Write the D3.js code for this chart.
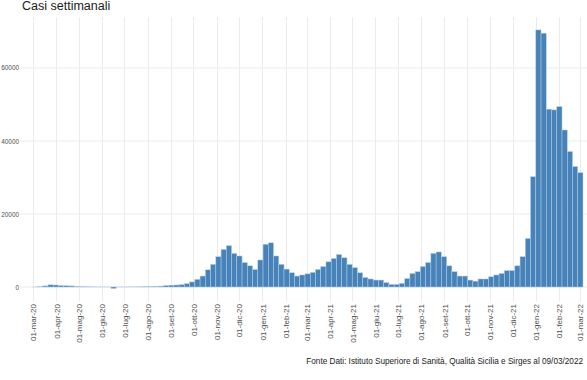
<!DOCTYPE html>
<html><head><meta charset="utf-8">
<script src="https://cdn.jsdelivr.net/npm/d3@7"></script>
<style>body{margin:0;background:#fff}svg{display:block}</style>
</head><body>
<svg id="c" width="587" height="380"></svg>
<script>
const title = "Casi settimanali";
const caption = "Fonte Dati: Istituto Superiore di Sanità, Qualità Sicilia e Sirges al 09/03/2022";
const firstWeek = "2020-02-22";
const lastWeek = "2022-02-26";
const weeklyCases = [
  0, 10, 80, 300, 600, 550, 400, 350, 300, 200,
  100, 60, 40, 20, 15, 10, -400, 15, 20, 30,
  40, 60, 100, 150, 200, 250, 400, 500, 550, 650,
  900, 1400, 2100, 3000, 4700, 6200, 8300, 10300, 11300, 9200,
  8500, 6700, 5800, 4800, 7400, 11700, 12100, 8500, 6200, 4900,
  3900, 3000, 3300, 3600, 4000, 4800, 5600, 6900, 7800, 8900,
  8000, 6200, 5300, 3900, 2600, 2200, 1900, 1900, 1200, 700,
  700, 1000, 2300, 3700, 4200, 5600, 6700, 9200, 9600, 8300,
  5800, 4200, 3000, 3000, 1900, 1600, 2200, 2200, 2800, 3300,
  3700, 4500, 4500, 5800, 8300, 13300, 30200, 70400, 69500, 48700,
  48500, 49400, 43000, 37100, 33000, 31300
];
const yTicks = [0, 20000, 40000, 60000];
const monthNames = ["gen","feb","mar","apr","mag","giu","lug","ago","set","ott","nov","dic"];

const parse = d3.utcParse("%Y-%m-%d");
const weeks = d3.utcSaturday.range(parse(firstWeek), d3.utcDay.offset(parse(lastWeek), 1));
const data = weeks.map((d, i) => ({date: d, value: weeklyCases[i]}));

const svg = d3.select("#c");
const x = d3.scaleUtc().domain([parse("2020-03-01"), parse("2022-03-01")]).range([33, 580]);
const xTicks = d3.utcMonth.range(parse("2020-03-01"), parse("2022-03-02"));
const y = d3.scaleLinear().domain([-3940, 73940]).range([301.4, 17]);

const grid = svg.append("g");
grid.selectAll("line.h").data(yTicks).join("line")
  .attr("x1", 20).attr("x2", 587)
  .attr("y1", d => y(d)).attr("y2", d => y(d))
  .attr("stroke", "#ebebeb").attr("stroke-width", 1);
grid.selectAll("line.v").data(xTicks).join("line")
  .attr("x1", d => Math.round(x(d)) + 0.5).attr("x2", d => Math.round(x(d)) + 0.5)
  .attr("y1", 17).attr("y2", 301)
  .attr("stroke", "#ebebeb").attr("stroke-width", 1);

svg.append("g").selectAll("rect").data(data).join("rect")
  .attr("x", d => x(d.date))
  .attr("width", d => x(d3.utcDay.offset(d.date, 7)) - x(d.date))
  .attr("y", d => y(Math.max(0, d.value)))
  .attr("height", d => Math.abs(y(d.value) - y(0)))
  .attr("fill", "#4783b8")
  .attr("stroke", "#b3cde6").attr("stroke-width", 0.5);

const yAxis = d3.axisLeft(y).tickValues(yTicks).tickSize(0).tickPadding(0).tickFormat(d3.format("d"));
svg.append("g").attr("transform", "translate(19,0)").call(yAxis)
  .call(g => g.select(".domain").remove())
  .call(g => g.selectAll("text").attr("font-family", "Liberation Sans, Arial, sans-serif")
     .attr("font-size", 6.4).attr("fill", "#4d4d4d"));

const fmt = d => "01-" + monthNames[d.getUTCMonth()] + "-" + String(d.getUTCFullYear()).slice(2);
const xAxis = d3.axisBottom(x).tickValues(xTicks).tickSize(0).tickPadding(0).tickFormat(fmt);
svg.append("g").attr("transform", "translate(0,304)").call(xAxis)
  .call(g => g.select(".domain").remove())
  .call(g => g.selectAll("text")
     .attr("font-family", "Liberation Sans, Arial, sans-serif")
     .attr("font-size", 8).attr("fill", "#4d4d4d")
     .attr("text-anchor", "end").attr("dy", "0.35em").attr("y", 0).attr("x", 0)
     .attr("transform", "rotate(-90)"));

svg.append("text").attr("x", 22).attr("y", 10)
  .attr("font-family", "Liberation Sans, Arial, sans-serif").attr("font-size", 12.5)
  .attr("fill", "#1a1a1a").text(title);

svg.append("text").attr("x", 583).attr("y", 364).attr("text-anchor", "end")
  .attr("font-family", "Liberation Sans, Arial, sans-serif").attr("font-size", 8.2)
  .attr("fill", "#1a1a1a").text(caption);
</script>
</body></html>
